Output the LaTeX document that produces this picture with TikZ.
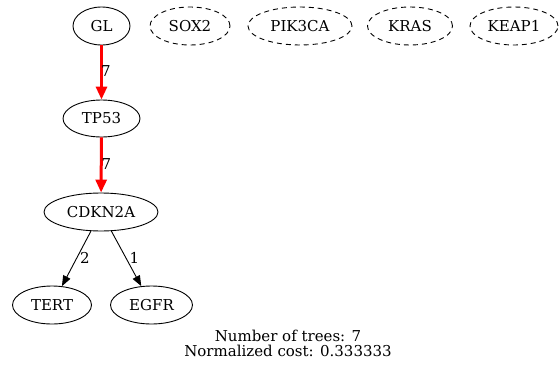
\documentclass[tikz,border=0pt]{standalone}
\usepackage{fontspec}
\setmainfont{DejaVu Serif}
\usetikzlibrary{shapes.geometric,arrows.meta}
\begin{document}
\begin{tikzpicture}[x=1pt,y=-1pt,
  txt/.style={font=\fontsize{15}{17}\selectfont},
  gene/.style={ellipse,draw,line width=0.9pt,inner sep=0pt,txt},
  ghost/.style={gene,dashed,dash pattern=on 5pt off 4pt},
  redge/.style={draw=red,line width=3pt,-{Triangle[length=13pt,width=11pt]},color=red},
  bedge/.style={draw,line width=0.9pt,-{Triangle[length=10.5pt,width=8pt]}},
  elab/.style={txt,inner sep=0pt},
  foot/.style={txt,inner sep=0pt,anchor=base}]
\useasboundingbox (0,0) rectangle (559,364);
\node[gene,minimum width=57pt,minimum height=38pt] (gl) at (101.5,26) {GL};
\node[ghost,minimum width=80pt,minimum height=38pt] (sox2) at (190,26) {SOX2};
\node[ghost,minimum width=104pt,minimum height=38pt] (pik3ca) at (300,26) {PIK3CA};
\node[ghost,minimum width=85pt,minimum height=38pt] (kras) at (410,26) {KRAS};
\node[ghost,minimum width=88pt,minimum height=38pt] (keap1) at (514,26) {KEAP1};
\node[gene,minimum width=77pt,minimum height=37pt] (tp53) at (101.5,118.5) {TP53};
\node[gene,minimum width=114pt,minimum height=38pt] (cdkn2a) at (101,212) {CDKN2A};
\node[gene,minimum width=79pt,minimum height=38pt] (tert) at (52,305) {TERT};
\node[gene,minimum width=82pt,minimum height=38pt] (egfr) at (151.5,305) {EGFR};
\draw[redge] (gl) -- (tp53);
\draw[redge] (tp53) -- (cdkn2a);
\draw[bedge] (cdkn2a) -- (tert);
\draw[bedge] (cdkn2a) -- (egfr);
\node[elab] (l1) at (106,71.5) {7};
\node[elab] (l2) at (106.5,164.5) {7};
\node[elab] (l3) at (85,258) {2};
\node[elab] (l4) at (134.5,258) {1};
\node[foot] (f1) at (288,341) {Number of trees: 7};
\node[foot] (f2) at (288,356) {Normalized cost: 0.333333};
\end{tikzpicture}
\end{document}
